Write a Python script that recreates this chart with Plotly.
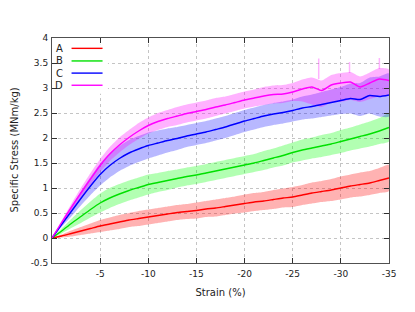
import plotly.graph_objects as go

# ---------------- data ----------------
strain = [0, -1, -2, -3, -4, -5, -6, -7, -8, -9, -10, -11, -12, -13, -14, -15, -16, -17,
          -18, -19, -20, -21, -22, -23, -24, -25, -26, -27, -28, -29, -30, -31, -32, -33, -34, -35]

A_mean = [0, 0.04, 0.09, 0.14, 0.19, 0.24, 0.28, 0.32, 0.36, 0.39, 0.42, 0.45, 0.48, 0.51, 0.53, 0.55,
          0.58, 0.60, 0.63, 0.66, 0.69, 0.72, 0.74, 0.77, 0.80, 0.82, 0.86, 0.90, 0.93, 0.96, 1.00,
          1.04, 1.07, 1.10, 1.15, 1.20]
A_sd = [0, 0.03, 0.06, 0.08, 0.10, 0.12, 0.13, 0.14, 0.14, 0.15, 0.15, 0.15, 0.15, 0.15, 0.15, 0.16,
        0.16, 0.17, 0.17, 0.17, 0.18, 0.18, 0.18, 0.19, 0.19, 0.20, 0.20, 0.21, 0.21, 0.22, 0.23,
        0.23, 0.24, 0.24, 0.25, 0.26]

B_mean = [0, 0.14, 0.29, 0.43, 0.57, 0.70, 0.80, 0.88, 0.95, 1.01, 1.07, 1.11, 1.15, 1.19, 1.23, 1.26,
          1.30, 1.34, 1.38, 1.42, 1.46, 1.50, 1.55, 1.60, 1.65, 1.71, 1.76, 1.80, 1.84, 1.88, 1.93,
          1.98, 2.03, 2.08, 2.14, 2.21]
B_sd = [0, 0.05, 0.09, 0.13, 0.16, 0.19, 0.20, 0.20, 0.20, 0.20, 0.20, 0.19, 0.19, 0.18, 0.18, 0.18,
        0.18, 0.18, 0.18, 0.18, 0.18, 0.18, 0.19, 0.19, 0.20, 0.20, 0.21, 0.21, 0.22, 0.22, 0.23,
        0.23, 0.24, 0.25, 0.26, 0.28]

C_mean = [0, 0.27, 0.53, 0.79, 1.04, 1.27, 1.45, 1.59, 1.70, 1.78, 1.85, 1.90, 1.95, 1.99, 2.04, 2.08,
          2.12, 2.17, 2.22, 2.28, 2.34, 2.39, 2.44, 2.48, 2.51, 2.55, 2.60, 2.63, 2.67, 2.71, 2.75,
          2.79, 2.77, 2.85, 2.83, 2.86]
C_sd = [0, 0.05, 0.10, 0.14, 0.18, 0.22, 0.24, 0.25, 0.26, 0.26, 0.26, 0.25, 0.24, 0.23, 0.22, 0.22,
        0.22, 0.22, 0.22, 0.22, 0.22, 0.22, 0.22, 0.22, 0.22, 0.22, 0.23, 0.24, 0.25, 0.26, 0.27,
        0.30, 0.33, 0.36, 0.40, 0.43]

D_mean = [0, 0.31, 0.61, 0.90, 1.18, 1.45, 1.68, 1.86, 2.01, 2.14, 2.25, 2.33, 2.39, 2.44, 2.49, 2.53,
          2.57, 2.62, 2.66, 2.71, 2.76, 2.80, 2.84, 2.87, 2.88, 2.92, 2.98, 3.02, 2.95, 3.06, 3.10,
          3.12, 3.02, 3.10, 3.18, 3.15]
D_sd_hi = [0, 0.04, 0.07, 0.10, 0.12, 0.13, 0.14, 0.15, 0.15, 0.16, 0.16, 0.17, 0.17, 0.18, 0.18, 0.18,
           0.18, 0.18, 0.17, 0.17, 0.17, 0.17, 0.18, 0.18, 0.18, 0.18, 0.19, 0.19, 0.20, 0.20, 0.20,
           0.20, 0.21, 0.21, 0.22, 0.22]
D_sd_lo = [0, 0.04, 0.07, 0.10, 0.12, 0.13, 0.14, 0.15, 0.15, 0.16, 0.16, 0.17, 0.17, 0.18, 0.18, 0.18,
           0.18, 0.18, 0.17, 0.17, 0.17, 0.17, 0.18, 0.18, 0.18, 0.18, 0.25, 0.35, 0.33, 0.35, 0.38,
           0.36, 0.30, 0.32, 0.35, 0.30]

# narrow spikes on the upper edge of the D band
D_spike_strain = [-27.7, -30.9, -34.0]
D_spike_base = [3.18, 3.30, 3.38]
D_spike_top = [3.59, 3.52, 3.60]

labels = ["A", "B", "C", "D"]
line_colors = ["#ff0000", "#00e000", "#0000ff", "#ff00ff"]
band_colors = ["rgba(255,0,0,0.3)", "rgba(0,255,0,0.3)", "rgba(0,0,255,0.28)", "rgba(255,0,255,0.3)"]

yticks = [-0.5, 0, 0.5, 1, 1.5, 2, 2.5, 3, 3.5, 4]
ytick_text = ["-0.5", "0", "0.5", "1", "1.5", "2", "2.5", "3", "3.5", "4"]
xticks = [-5, -10, -15, -20, -25, -30, -35]
xtick_text = ["-5", "-10", "-15", "-20", "-25", "-30", "-35"]

# ---------------- figure ----------------
means = [A_mean, B_mean, C_mean, D_mean]
lows = [[m - s for m, s in zip(A_mean, A_sd)],
        [m - s for m, s in zip(B_mean, B_sd)],
        [m - s for m, s in zip(C_mean, C_sd)],
        [m - s for m, s in zip(D_mean, D_sd_lo)]]
highs = [[m + s for m, s in zip(A_mean, A_sd)],
         [m + s for m, s in zip(B_mean, B_sd)],
         [m + s for m, s in zip(C_mean, C_sd)],
         [m + s for m, s in zip(D_mean, D_sd_hi)]]

fig = go.Figure()

for lo, hi, bc in zip(lows, highs, band_colors):
    fig.add_trace(go.Scatter(
        x=strain + strain[::-1], y=hi + lo[::-1],
        mode="lines", fill="toself", fillcolor=bc,
        line=dict(width=0, color=bc, shape="spline", smoothing=0.6),
        hoverinfo="skip", showlegend=False))

for sx, sb, st in zip(D_spike_strain, D_spike_base, D_spike_top):
    fig.add_trace(go.Scatter(
        x=[sx, sx], y=[sb, st], mode="lines",
        line=dict(width=1.5, color=band_colors[3]), hoverinfo="skip", showlegend=False))

for m, lc, name in zip(means, line_colors, labels):
    fig.add_trace(go.Scatter(
        x=strain, y=m, mode="lines", name=name,
        line=dict(width=1.4, color=lc, shape="spline", smoothing=0.6), showlegend=False))

# gnuplot-style key: opaque box, label then line sample
shapes = [dict(type="rect", xref="paper", yref="paper", layer="above",
               x0=0.016, x1=0.166, y0=0.752, y1=0.972,
               fillcolor="white", line=dict(width=0))]
annotations = []
key_y = [0.954, 0.898, 0.844, 0.790]
for name, lc, ky in zip(labels, line_colors, key_y):
    annotations.append(dict(xref="paper", yref="paper", x=0.038, y=ky, text=name,
                            showarrow=False, xanchor="right", yanchor="middle",
                            font=dict(family="DejaVu Sans", size=10, color="#222")))
    shapes.append(dict(type="line", xref="paper", yref="paper", layer="above",
                       x0=0.058, x1=0.150, y0=ky, y1=ky, line=dict(color=lc, width=1.4)))

# y-axis title placed as rotated text left of the tick labels
annotations.append(dict(xref="paper", yref="paper", x=0, y=0.5, xshift=-38,
                        text="Specific Stress (MNm/kg)", textangle=-90, showarrow=False,
                        xanchor="center", yanchor="middle",
                        font=dict(family="DejaVu Sans", size=10, color="#222")))

axis_common = dict(
    showline=True, linecolor="#505050", linewidth=1, mirror="allticks",
    ticks="inside", ticklen=5, tickcolor="#303030", tickwidth=1,
    showgrid=True, gridcolor="#c4c4c4", griddash="dot", gridwidth=1,
    zeroline=False, automargin=False,
    tickfont=dict(family="DejaVu Sans", size=9, color="#222"),
)

# the page body adds an 8px offset (top/left), so the figure is 8px smaller
fig.update_layout(
    width=407, height=304,
    margin=dict(l=44, r=26, t=30, b=49),
    paper_bgcolor="white", plot_bgcolor="white",
    font=dict(family="DejaVu Sans", size=10, color="#222"),
    xaxis=dict(range=[0, -35], tickvals=xticks, ticktext=xtick_text, ticklabelstandoff=2,
               title=dict(text="Strain (%)", font=dict(size=10), standoff=11), **axis_common),
    yaxis=dict(range=[-0.5, 4], tickvals=yticks, ticktext=ytick_text, ticklabelstandoff=1,
               **axis_common),
    shapes=shapes, annotations=annotations, showlegend=False,
)

fig.write_html("out.html")
